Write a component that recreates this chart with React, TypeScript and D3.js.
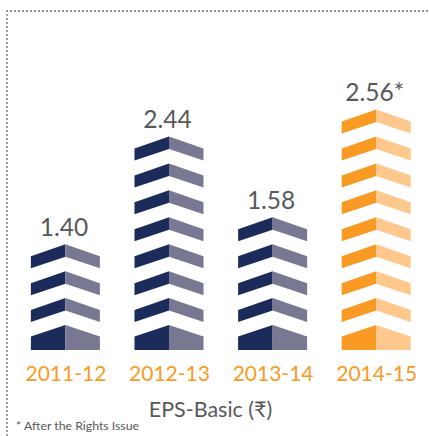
import * as d3 from 'd3';

const years = ['2011-12', '2012-13', '2013-14', '2014-15'];
const values = ['1.40', '2.44', '1.58', '2.56*'];
// number of stacked chevrons drawn for each year, counted from the picture
const levels = [4, 8, 5, 9];
const darkColors = ['#1b2b5a', '#1b2b5a', '#1b2b5a', '#f99a25'];
const lightColors = ['#787893', '#787893', '#787893', '#fec78c'];

const width = 429, height = 436;
const font = 'Lato, "Open Sans", sans-serif';

const x = d3.scaleBand<string>().domain(years).range([13.6, 428]);
// y of a chevron's peak by its level, 0 is the bottom one
const y = d3.scaleLinear().domain([0, 8]).range([325, 109.5]);
const halfW = 34.5;
const line = d3.line();

function chevron(cx: number, peak: number, side: number, base: boolean) {
  const edge = side * halfW;
  const pts: [number, number][] = base
    ? [[cx, peak], [cx + edge, peak + 11.5], [cx + edge, 350], [cx, 350]]
    : [[cx, peak], [cx + edge, peak + 12], [cx + edge, peak + 24], [cx, peak + 12.5]];
  return line(pts) + 'Z';
}

export default function App() {
  return (
    <svg width={width} height={height} style={{ position: 'absolute', left: 0, top: 0 }}>
      <path d={`M7,${height}V11H${width}`} fill="none" stroke="#6e6e6e" strokeWidth={1.3} strokeDasharray="2 2" />
      {years.map((year, i) => {
        const cx = x(year)! + x.bandwidth() / 2;
        return (
          <g key={year}>
            {d3.range(levels[i]).map(l => (
              <g key={l}>
                <path d={chevron(cx, y(l), -1, l === 0)} fill={darkColors[i]} />
                <path d={chevron(cx, y(l), 1, l === 0)} fill={lightColors[i]} />
              </g>
            ))}
            <text x={cx - 1.5} y={y(levels[i] - 1) - 8.5} textAnchor="middle" fontFamily={font} fontSize={24.5} fill="#58595b">
              {values[i]}
            </text>
            <text x={cx + 0.5} y={381} textAnchor="middle" fontFamily={font} fontSize={21} fill="#f99a25">
              {year}
            </text>
          </g>
        );
      })}
      <text x={210.5} y={417} textAnchor="middle" fontFamily={font} fontSize={21.5} fill="#58595b">EPS-Basic (₹)</text>
      <text x={16} y={430} fontFamily={font} fontSize={12.3} fill="#58595b">* After the Rights Issue</text>
    </svg>
  );
}
